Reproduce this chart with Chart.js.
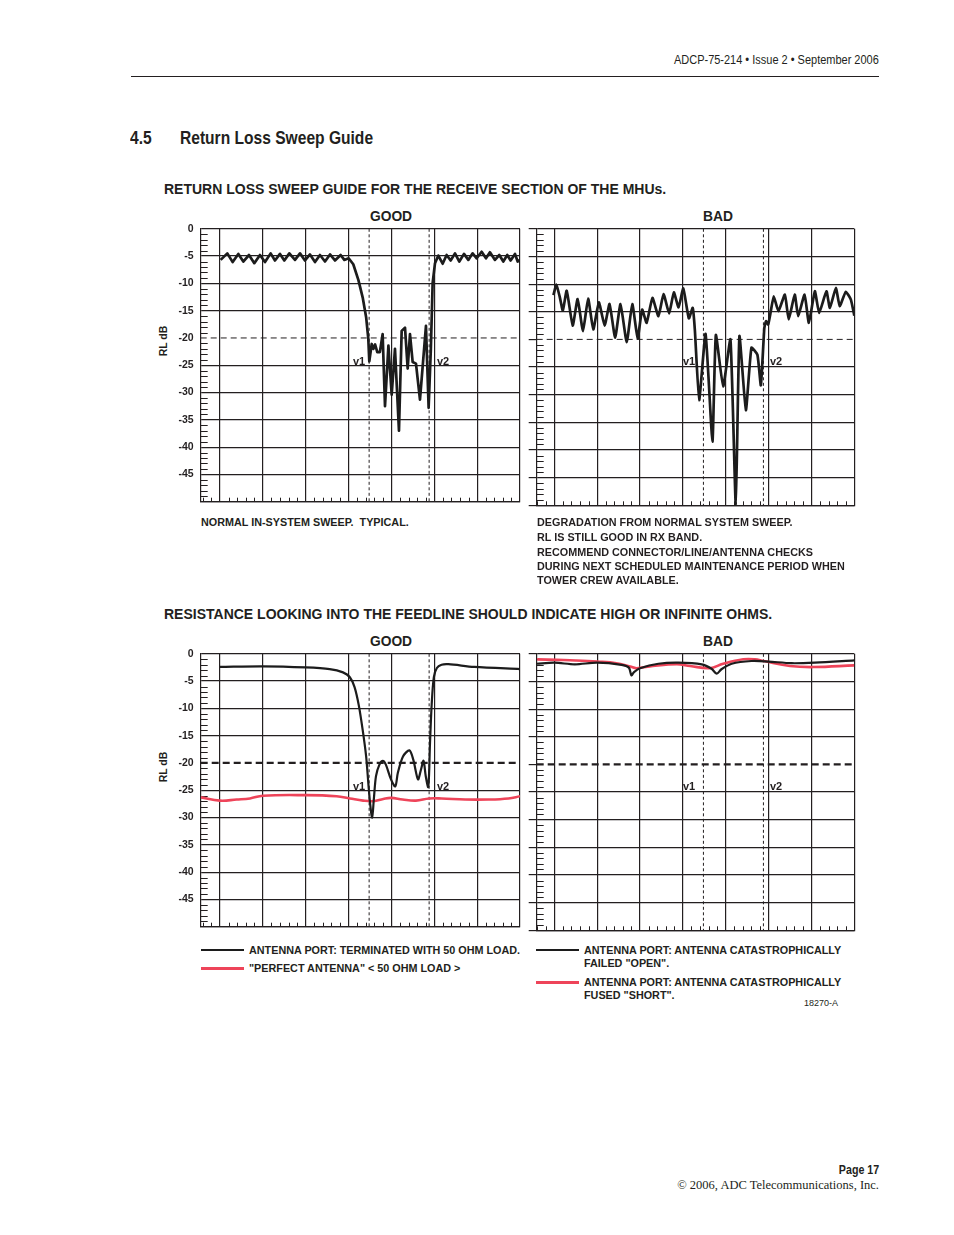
<!DOCTYPE html>
<html>
<head>
<meta charset="utf-8">
<script src="https://cdn.jsdelivr.net/npm/chart.js@4.4.1/dist/chart.umd.min.js"></script>
<style>
  body { margin: 0; background: #fff; }
  #page { position: relative; width: 954px; height: 1235px; overflow: hidden;
          font-family: "Liberation Sans", Arial, Helvetica, sans-serif; color: #231f20; }
  .t { position: absolute; white-space: nowrap; line-height: 1; }
  .b { font-weight: bold; }
  /* no condensed face installed, so squeeze the regular one */
  .narrow { transform: scaleX(0.82); transform-origin: left center; }
  .narrow.r { transform-origin: right center; }
  .c { transform: translateX(-50%); }
  .cap { font-size: 10.8px; font-weight: bold; }
  .sub { font-size: 14px; font-weight: bold; }
  .hd { font-size: 13.8px; font-weight: bold; }
  .v { font-size: 11px; font-weight: bold; }
  .rl { font-size: 10.5px; font-weight: bold; transform: translate(-50%, -50%) rotate(-90deg); }
  .rule { position: absolute; background: #231f20; }
  canvas { position: absolute; }
</style>
</head>
<body>
<div id="page">
  <div class="t narrow r" style="right:75px;top:52.6px;font-size:13.4px;">ADCP-75-214 • Issue 2 • September 2006</div>
  <div class="rule" style="left:131px;top:75.5px;width:748px;height:1.2px;"></div>
  <div class="t narrow b" style="left:130px;top:127.9px;font-size:19px;">4.5</div>
  <div class="t narrow b" style="left:180px;top:127.9px;font-size:19px;">Return Loss Sweep Guide</div>

  <div class="t sub" style="left:164px;top:182.3px;">RETURN LOSS SWEEP GUIDE FOR THE RECEIVE SECTION OF THE MHUs.</div>
  <div class="t hd c" style="left:391px;top:210.4px;">GOOD</div>
  <div class="t hd c" style="left:718px;top:210.4px;">BAD</div>
  <div class="t rl" style="left:163px;top:341px;">RL dB</div>

  <canvas id="goodRx" width="380" height="300" style="left:150px;top:215px;"></canvas>
  <canvas id="badRx" width="345" height="300" style="left:520px;top:215px;"></canvas>

  <div class="t v" style="left:353px;top:355.7px;">v1</div>
  <div class="t v" style="left:437px;top:355.7px;">v2</div>
  <div class="t v" style="left:683px;top:355.7px;">v1</div>
  <div class="t v" style="left:770px;top:355.7px;">v2</div>

  <div class="t cap" style="left:201px;top:516.8px;">NORMAL IN-SYSTEM SWEEP.&nbsp; TYPICAL.</div>
  <div class="t cap" style="left:537px;top:516.8px;">DEGRADATION FROM NORMAL SYSTEM SWEEP.</div>
  <div class="t cap" style="left:537px;top:532.3px;">RL IS STILL GOOD IN RX BAND.</div>
  <div class="t cap" style="left:537px;top:547.3px;">RECOMMEND CONNECTOR/LINE/ANTENNA CHECKS</div>
  <div class="t cap" style="left:537px;top:561.3px;">DURING NEXT SCHEDULED MAINTENANCE PERIOD WHEN</div>
  <div class="t cap" style="left:537px;top:574.8px;">TOWER CREW AVAILABLE.</div>

  <div class="t sub" style="left:164px;top:607.3px;">RESISTANCE LOOKING INTO THE FEEDLINE SHOULD INDICATE HIGH OR INFINITE OHMS.</div>
  <div class="t hd c" style="left:391px;top:635.4px;">GOOD</div>
  <div class="t hd c" style="left:718px;top:635.4px;">BAD</div>
  <div class="t rl" style="left:163px;top:767px;">RL dB</div>

  <canvas id="goodOhm" width="380" height="300" style="left:150px;top:640px;"></canvas>
  <canvas id="badOhm" width="345" height="300" style="left:520px;top:640px;"></canvas>

  <div class="t v" style="left:353px;top:780.7px;">v1</div>
  <div class="t v" style="left:437px;top:780.7px;">v2</div>
  <div class="t v" style="left:683px;top:780.7px;">v1</div>
  <div class="t v" style="left:770px;top:780.7px;">v2</div>

  <!-- legends -->
  <div class="rule" style="left:201px;top:949px;width:43px;height:2.4px;background:#1c1c1c;"></div>
  <div class="rule" style="left:201px;top:966.5px;width:43px;height:3px;background:#ee4459;"></div>
  <div class="t cap" style="left:249px;top:944.8px;">ANTENNA PORT: TERMINATED WITH 50 OHM LOAD.</div>
  <div class="t cap" style="left:249px;top:962.8px;">"PERFECT ANTENNA" &lt; 50 OHM LOAD &gt;</div>

  <div class="rule" style="left:536px;top:949.3px;width:43px;height:1.4px;background:#1c1c1c;"></div>
  <div class="rule" style="left:536px;top:980.5px;width:43px;height:3px;background:#ee4459;"></div>
  <div class="t cap" style="left:584px;top:944.8px;">ANTENNA PORT: ANTENNA CATASTROPHICALLY</div>
  <div class="t cap" style="left:584px;top:957.8px;">FAILED "OPEN".</div>
  <div class="t cap" style="left:584px;top:976.8px;">ANTENNA PORT: ANTENNA CATASTROPHICALLY</div>
  <div class="t cap" style="left:584px;top:989.8px;">FUSED "SHORT".</div>
  <div class="t" style="left:804px;top:998.7px;font-size:9px;">18270-A</div>

  <div class="t narrow r b" style="right:75px;top:1162.8px;font-size:13px;">Page 17</div>
  <div class="t" style="right:75px;top:1178.7px;font-size:12.5px;font-family:'Liberation Serif','Times New Roman',serif;">© 2006, ADC Telecommunications, Inc.</div>
</div>

<script>
/* axis setup: x is in screen divisions (7 major divisions), y is return loss in dB */
const Y_TICKS = [-50, -45, -40, -35, -30, -25, -20, -15, -10, -5, 0];
const X_DIVS = [0, 1, 2, 3, 4, 5, 6, 7];
const RL_LIMIT = -20;
const MARKER_V1 = 3.48;
const MARKER_V2 = 4.88;

/* receive section, normal in-system sweep */
const goodRxX = [0.016, 0.171, 0.296, 0.428, 0.544, 0.677, 0.801, 0.933, 1.05, 1.182, 1.283, 1.4, 1.501,
  1.618, 1.75, 1.867, 1.983, 2.1, 2.217, 2.333, 2.45, 2.567, 2.683, 2.815, 2.901, 3.002, 3.11, 3.23, 3.33,
  3.41, 3.46, 3.484, 3.54, 3.58, 3.62, 3.67, 3.73, 3.795, 3.85, 3.93, 4.006, 4.083, 4.176, 4.239, 4.317,
  4.379, 4.433, 4.495, 4.573, 4.666, 4.806, 4.868, 4.92, 4.962, 5.017, 5.094, 5.195, 5.288, 5.382, 5.483,
  5.584, 5.693, 5.794, 5.895, 5.989, 6.105, 6.206, 6.299, 6.416, 6.517, 6.61, 6.703, 6.781, 6.883, 6.945, 7.0];
const goodRxY = [-5.7, -4.5, -6.1, -4.6, -6.0, -4.8, -6.3, -4.8, -6.1, -4.5, -5.8, -4.6, -5.8,
  -4.5, -5.7, -4.5, -5.8, -4.7, -6.1, -4.8, -6.0, -4.7, -5.8, -4.8, -5.7, -5.4, -6.5, -9.4, -12.6,
  -16.2, -20.1, -24.3, -21.1, -22, -21.2, -22.6, -22.6, -19.3, -32.5, -21.4, -30.4, -22, -37, -18.7, -18.1,
  -25.6, -19.3, -24.4, -24.7, -31.3, -17.8, -32.8, -22, -9.9, -6.3, -4.9, -6.4, -4.8, -5.8, -4.5,
  -6.0, -4.6, -5.7, -4.5, -5.4, -4.2, -5.4, -4.3, -5.7, -4.8, -6.0, -4.8, -5.8, -4.6, -6.0, -5.7];

/* receive section, degraded sweep */
const badRxX = [-0.02, 0.05, 0.13, 0.2, 0.29, 0.43, 0.545, 0.67, 0.79, 0.91, 1.04, 1.175, 1.29, 1.42,
  1.545, 1.69, 1.82, 1.945, 2.05, 2.155, 2.29, 2.43, 2.55, 2.68, 2.79, 2.9, 3.01, 3.14, 3.23, 3.28, 3.38,
  3.53, 3.69, 3.77, 3.94, 4.11, 4.235, 4.32, 4.47, 4.6, 4.74, 4.82, 4.9, 4.94, 4.99, 5.05, 5.12, 5.23,
  5.38, 5.47, 5.61, 5.69, 5.84, 5.94, 6.08, 6.18, 6.35, 6.43, 6.57, 6.66, 6.8, 6.92, 7.0];
const badRxY = [-12.0, -10.1, -12.4, -14.8, -11.2, -17.5, -12.7, -18.5, -12.6, -18.2, -13.3, -17.5, -13.6, -19.7,
  -13.6, -20.5, -13.6, -19.8, -14.6, -17, -12.5, -15.8, -11.8, -15.3, -11.5, -14.2, -10.8, -16.2, -14.3, -18.3, -31,
  -19, -38.5, -19.2, -28.5, -20, -50, -19.4, -32.8, -21.5, -22.8, -28.3, -18, -16.7, -17.3, -15, -12.2, -14.9,
  -11.9, -16.4, -11.9, -15.8, -11.9, -17, -11.3, -15.2, -11.3, -14.3, -10.7, -14, -11.4, -12.8, -15.7];

/* feedline, good: 50 ohm load (black) and perfect antenna (red) */
const goodLoadX = [0, 1.0, 2.0, 2.56, 2.87, 3.03, 3.14, 3.24, 3.33, 3.41, 3.46, 3.5, 3.55, 3.59, 3.64,
  3.72, 3.8, 3.87, 3.99, 4.09, 4.15, 4.27, 4.42, 4.51, 4.62, 4.69, 4.75, 4.8, 4.86, 4.9, 4.94, 4.99, 5.06,
  5.17, 5.33, 5.93, 7.0];
const goodLoadY = [-2.4, -2.3, -2.5, -2.8, -3.4, -4.3, -6.1, -9.5, -14, -18.8, -23.6, -27.2, -30, -26.6, -22.4,
  -20.3, -19.6, -20.3, -23, -24.3, -21.8, -18.8, -17.7, -19.4, -23, -21.2, -19.6, -22.4, -24.4, -16.4, -9.2,
  -4.3, -2.6, -2.0, -1.9, -2.4, -2.8];
const goodAntX = [-0.45, 0, 0.39, 0.7, 1.0, 2.0, 2.72, 3.03, 3.34, 3.58, 3.81, 3.99, 4.26, 4.57, 4.88,
  5.17, 5.72, 6.26, 6.73, 7.0];
const goodAntY = [-26.3, -26.9, -26.7, -26.5, -26.0, -25.9, -26.1, -26.5, -26.9, -27.0, -26.6, -26.4, -26.7,
  -26.9, -26.5, -26.5, -26.7, -26.7, -26.5, -26.1];

/* feedline, bad: failed open (black) and fused short (red) */
const openX = [-0.41, 0, 0.48, 1.0, 1.57, 1.74, 1.8, 1.86, 2.0, 2.43, 2.89, 3.44, 3.67, 3.79, 3.9, 4.14,
  4.6, 4.99, 5.54, 6.08, 7.0];
const openY = [-1.8, -1.6, -1.9, -1.6, -2.0, -2.5, -3.9, -3.3, -2.6, -1.8, -1.6, -1.9, -2.7, -3.6, -2.8, -1.8,
  -1.3, -1.4, -1.7, -1.6, -1.2];
const shortX = [-0.4, 0.06, 0.5, 1.0, 1.45, 1.77, 1.92, 2.3, 2.86, 3.17, 3.63, 3.94, 4.41, 4.68, 4.88,
  5.5, 6.04, 7.0];
const shortY = [-1.0, -1.1, -1.2, -1.4, -1.7, -2.3, -2.6, -2.2, -1.9, -2.2, -2.6, -1.8, -1.0, -1.0, -1.3,
  -2.2, -2.4, -2.1];

const GRID = '#231f20';
const INK = '#1c1c1c';
const RED = '#ee4459';

Chart.defaults.font.family = '"Liberation Sans", Arial, Helvetica, sans-serif';
Chart.defaults.color = GRID;

function pts(xs, ys) {
  return xs.map((x, i) => ({ x: x, y: ys[i] }));
}

/* small 1 dB ticks on the left edge and fifth-division ticks on the bottom */
const minorTicks = {
  id: 'minorTicks',
  beforeDatasetsDraw(chart) {
    const { ctx, chartArea: a, scales: { x, y } } = chart;
    ctx.save();
    ctx.strokeStyle = GRID;
    ctx.lineWidth = 1;
    ctx.beginPath();
    for (let v = Y_TICKS[0] + 1; v < Y_TICKS[Y_TICKS.length - 1]; v++) {
      if (v % 5 === 0) continue;
      const py = Math.round(y.getPixelForValue(v)) + 0.5;
      ctx.moveTo(a.left, py);
      ctx.lineTo(a.left + 7, py);
    }
    for (let k = Math.ceil(x.min * 5); k < x.max * 5; k++) {
      if (k % 5 === 0) continue;
      const px = Math.round(x.getPixelForValue(k / 5)) + 0.5;
      ctx.moveTo(px, a.bottom);
      ctx.lineTo(px, a.bottom - 4);
    }
    ctx.stroke();
    ctx.restore();
  }
};

function makeChart(id, o) {
  const datasets = o.series.map(s => ({
    data: pts(s.xs, s.ys),
    borderColor: s.color,
    borderWidth: s.width,
    tension: s.tension,
    borderJoinStyle: 'round',
    pointRadius: 0
  }));
  // -20 dB limit and the v1 / v2 band markers
  datasets.push({
    data: [{ x: o.xMin, y: RL_LIMIT }, { x: X_DIVS[X_DIVS.length - 1], y: RL_LIMIT }],
    borderColor: GRID, borderWidth: o.limitWidth, borderDash: o.limitDash, pointRadius: 0
  });
  [MARKER_V1, MARKER_V2].forEach(m => datasets.push({
    data: [{ x: m, y: Y_TICKS[Y_TICKS.length - 1] }, { x: m, y: Y_TICKS[0] }],
    borderColor: GRID, borderWidth: 1, borderDash: [3, 2.5], pointRadius: 0
  }));

  return new Chart(document.getElementById(id), {
    type: 'line',
    data: { datasets: datasets },
    plugins: [minorTicks],
    options: {
      responsive: false,
      animation: false,
      events: [],
      layout: { padding: { top: 13.8, right: o.padRight, bottom: 9.7, left: 0 } },
      plugins: { legend: { display: false }, tooltip: { enabled: false } },
      scales: {
        x: {
          type: 'linear',
          min: o.xMin,
          max: X_DIVS[X_DIVS.length - 1],
          afterBuildTicks: s => { s.ticks = X_DIVS.map(v => ({ value: v })); },
          afterFit: s => { s.height = 0; },
          ticks: { display: false },
          grid: { color: GRID, lineWidth: 1.2, drawTicks: false },
          border: { display: true, color: GRID, width: 1.2 }
        },
        y: {
          type: 'linear',
          min: Y_TICKS[0],
          max: Y_TICKS[Y_TICKS.length - 1],
          afterBuildTicks: s => { s.ticks = Y_TICKS.map(v => ({ value: v })); },
          afterFit: s => { s.width = o.axisWidth; },
          ticks: {
            display: o.labels,
            padding: 7,
            color: GRID,
            font: { size: 10.5, weight: 'bold' },
            callback: v => (v === Y_TICKS[0] ? '' : String(v))
          },
          grid: {
            color: c => (c.tick && c.tick.value === RL_LIMIT ? 'rgba(0,0,0,0)' : GRID),
            tickColor: GRID,
            lineWidth: 1.2,
            drawTicks: !o.labels,
            tickLength: 8
          },
          border: { display: true, color: GRID, width: 1.2 }
        }
      }
    }
  });
}

makeChart('goodRx', {
  xMin: -0.45, axisWidth: 50.7, padRight: 10, labels: true, limitWidth: 1, limitDash: [6, 4],
  series: [{ xs: goodRxX, ys: goodRxY, color: INK, width: 2.7, tension: 0 }]
});
makeChart('badRx', {
  xMin: -0.41, axisWidth: 16.7, padRight: 10.7, labels: false, limitWidth: 1, limitDash: [6, 4],
  series: [{ xs: badRxX, ys: badRxY, color: INK, width: 2.7, tension: 0.15 }]
});
makeChart('goodOhm', {
  xMin: -0.45, axisWidth: 50.7, padRight: 10, labels: true, limitWidth: 2.2, limitDash: [7, 4],
  series: [
    { xs: goodLoadX, ys: goodLoadY, color: INK, width: 2.2, tension: 0.3 },
    { xs: goodAntX, ys: goodAntY, color: RED, width: 2.6, tension: 0.4 }
  ]
});
makeChart('badOhm', {
  xMin: -0.41, axisWidth: 16.7, padRight: 10.7, labels: false, limitWidth: 2.2, limitDash: [7, 4],
  series: [
    { xs: openX, ys: openY, color: INK, width: 2.2, tension: 0.3 },
    { xs: shortX, ys: shortY, color: RED, width: 2.6, tension: 0.4 }
  ]
});
</script>
</body>
</html>
